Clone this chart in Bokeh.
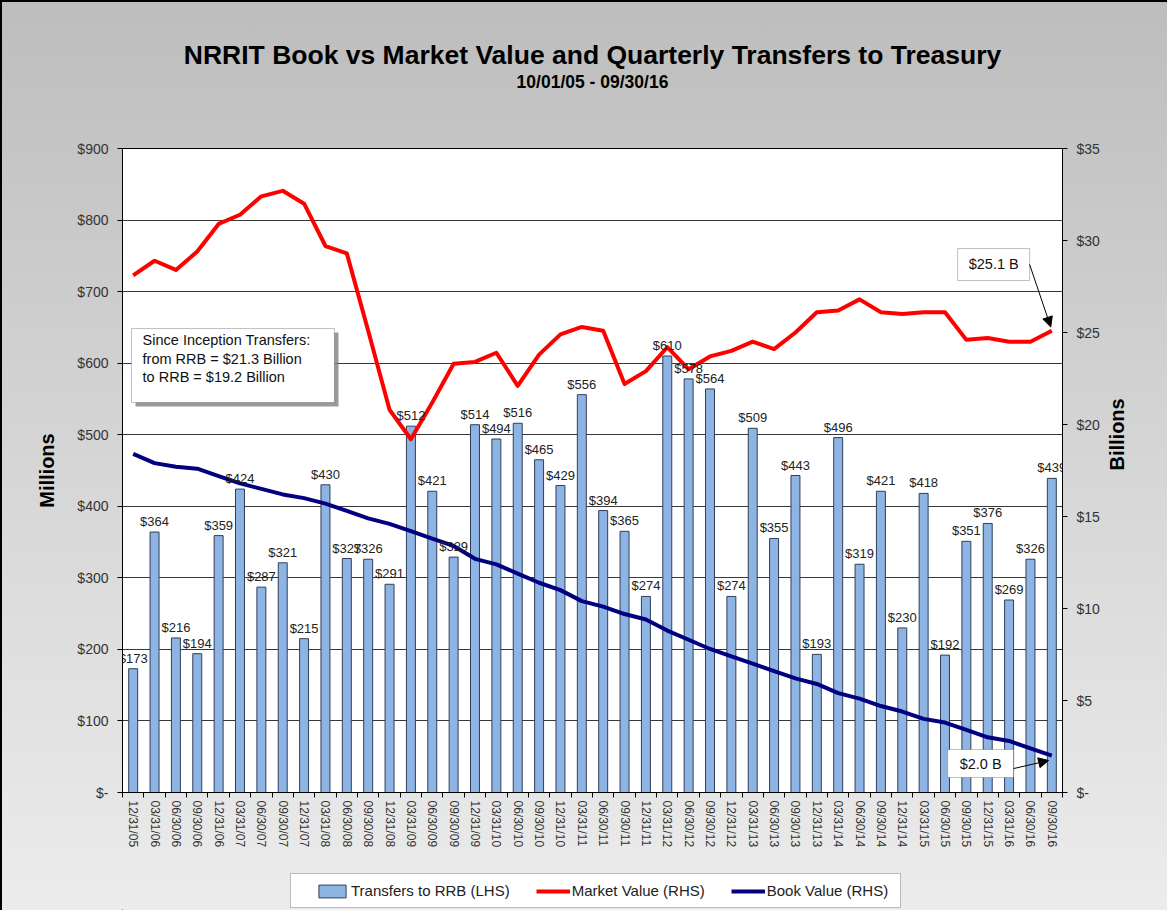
import math
from bokeh.plotting import figure
from bokeh.layouts import column
from bokeh.models import (Range1d, LinearAxis, FixedTicker, ColumnDataSource, Legend, LegendItem,
                          Label, BoxAnnotation, Arrow, NormalHead, Title)
from bokeh.embed import file_html
from bokeh.resources import INLINE
from bokeh.core.properties import value

# ---------------- data ----------------
quarters = ["12/31/05", "03/31/06", "06/30/06", "09/30/06", "12/31/06", "03/31/07", "06/30/07", "09/30/07",
            "12/31/07", "03/31/08", "06/30/08", "09/30/08", "12/31/08", "03/31/09", "06/30/09", "09/30/09",
            "12/31/09", "03/31/10", "06/30/10", "09/30/10", "12/31/10", "03/31/11", "06/30/11", "09/30/11",
            "12/31/11", "03/31/12", "06/30/12", "09/30/12", "12/31/12", "03/31/13", "06/30/13", "09/30/13",
            "12/31/13", "03/31/14", "06/30/14", "09/30/14", "12/31/14", "03/31/15", "06/30/15", "09/30/15",
            "12/31/15", "03/31/16", "06/30/16", "09/30/16"]
transfers = [173, 364, 216, 194, 359, 424, 287, 321, 215, 430, 327, 326, 291, 512, 421, 329,
             514, 494, 516, 465, 429, 556, 394, 365, 274, 610, 578, 564, 274, 509, 355, 443,
             193, 496, 319, 421, 230, 418, 192, 351, 376, 269, 326, 439]
market_value = [28.1, 28.9, 28.4, 29.4, 30.9, 31.4, 32.4, 32.7, 32.0, 29.7, 29.3, 25.1, 20.8, 19.2, 21.2, 23.3,
                23.4, 23.9, 22.1, 23.8, 24.9, 25.3, 25.1, 22.2, 22.9, 24.2, 23.0, 23.7, 24.0, 24.5, 24.1, 25.0,
                26.1, 26.2, 26.8, 26.1, 26.0, 26.1, 26.1, 24.6, 24.7, 24.5, 24.5, 25.1]
book_value = [18.4, 17.9, 17.7, 17.6, 17.2, 16.8, 16.5, 16.2, 16.0, 15.7, 15.3, 14.9, 14.6, 14.2, 13.8, 13.4,
              12.7, 12.4, 11.9, 11.4, 11.0, 10.4, 10.1, 9.7, 9.4, 8.8, 8.3, 7.8, 7.4, 7.0, 6.6, 6.2,
              5.9, 5.4, 5.1, 4.7, 4.4, 4.0, 3.8, 3.4, 3.0, 2.8, 2.4, 2.0]
left_ticks = [0, 100, 200, 300, 400, 500, 600, 700, 800, 900]
left_tick_labels = ["$-", "$100", "$200", "$300", "$400", "$500", "$600", "$700", "$800", "$900"]
right_ticks = [0, 5, 10, 15, 20, 25, 30, 35]
right_tick_labels = ["$-", "$5", "$10", "$15", "$20", "$25", "$30", "$35"]
series_names = ["Transfers to RRB (LHS)", "Market Value (RHS)", "Book Value (RHS)"]

title_text = "NRRIT Book vs Market Value and Quarterly Transfers to Treasury"
subtitle_text = "10/01/05 - 09/30/16"
note_text = "Since Inception Transfers:\nfrom RRB  = $21.3 Billion\nto RRB = $19.2 Billion"
market_callout = "$25.1 B"
book_callout = "$2.0 B"

FONT = "Liberation Sans"
BAR_FILL = "#8db4e2"
BAR_LINE = "#2f3f5a"
RED = "#ff0000"
NAVY = "#000080"

n = len(quarters)
xs = list(range(1, n + 1))
src = ColumnDataSource(dict(x=xs, q=quarters, transfers=transfers,
                            lbl=["$" + str(v) for v in transfers],
                            market=market_value, book=book_value))

p = figure(width=1167, height=865, output_backend="svg", toolbar_location=None,
           x_range=Range1d(0.5, n + 0.5), y_range=Range1d(0, 900),
           min_border_left=122, min_border_right=105, min_border_top=148, min_border_bottom=73)
p.extra_y_ranges = {"right": Range1d(0, 35)}
p.background_fill_color = "white"
p.border_fill_alpha = 0
p.outline_line_color = "black"
p.outline_line_width = 1

# titles (first added = closest to the frame)
p.title.text = ""
p.title.standoff = 0
p.add_layout(Title(text=" ", text_font_size="30px", standoff=22, text_font=FONT), "above")
p.add_layout(Title(text=subtitle_text, align="center", text_font=FONT, text_font_style="bold",
                   text_font_size="17.5px", standoff=0, text_color="#000000"), "above")
p.add_layout(Title(text=title_text, align="center", text_font=FONT, text_font_style="bold",
                   text_font_size="26.5px", standoff=0, text_color="#000000"), "above")

p.xgrid.visible = False
p.ygrid.ticker = FixedTicker(ticks=left_ticks[1:-1])
p.ygrid.grid_line_color = "#383838"
p.ygrid.grid_line_width = 1

# left axis
yl = p.yaxis[0]
yl.ticker = FixedTicker(ticks=left_ticks)
yl.major_label_overrides = dict(zip(left_ticks, left_tick_labels))
yl.major_tick_in = 0
yl.major_tick_out = 5
yl.minor_tick_line_color = None
yl.major_label_standoff = 9
yl.major_label_text_font = FONT
yl.major_label_text_font_size = "14px"
yl.major_label_text_color = "#333333"
yl.axis_line_color = "black"
yl.major_tick_line_color = "black"
yl.axis_label = "Millions"
yl.axis_label_standoff = 16
yl.axis_label_text_font = FONT
yl.axis_label_text_font_style = "bold"
yl.axis_label_text_font_size = "20px"
yl.axis_label_text_color = "#000000"

# right axis
yr = LinearAxis(y_range_name="right", ticker=FixedTicker(ticks=right_ticks))
yr.major_label_overrides = dict(zip(right_ticks, right_tick_labels))
yr.major_tick_in = 0
yr.major_tick_out = 5
yr.minor_tick_line_color = None
yr.major_label_standoff = 9
yr.major_label_text_font = FONT
yr.major_label_text_font_size = "14px"
yr.major_label_text_color = "#333333"
yr.axis_line_color = "black"
yr.major_tick_line_color = "black"
yr.axis_label = "Billions"
yr.axis_label_orientation = math.pi / 2
yr.axis_label_standoff = 14
yr.axis_label_text_font = FONT
yr.axis_label_text_font_style = "bold"
yr.axis_label_text_font_size = "20px"
yr.axis_label_text_color = "#000000"
p.add_layout(yr, "right")

# x axis
xa = p.xaxis[0]
xa.ticker = FixedTicker(ticks=xs, minor_ticks=[i + 0.5 for i in range(n + 1)])
xa.major_label_overrides = dict(zip(xs, quarters))
xa.major_tick_line_color = None
xa.major_tick_out = 5
xa.major_tick_in = 0
xa.minor_tick_line_color = "black"
xa.minor_tick_out = 5
xa.minor_tick_in = 0
xa.major_label_orientation = -math.pi / 2
xa.major_label_standoff = 3
xa.major_label_text_font = FONT
xa.major_label_text_font_size = "12px"
xa.major_label_text_color = "#333333"
xa.axis_line_color = "black"

# bars
p.vbar(x="x", top="transfers", width=0.42, source=src,
       fill_color=BAR_FILL, line_color=BAR_LINE, line_width=1)
# lines
p.line(x="x", y="market", source=src, y_range_name="right",
       line_color=RED, line_width=4, line_join="round")
p.line(x="x", y="book", source=src, y_range_name="right",
       line_color=NAVY, line_width=4, line_join="round")
# bar labels
p.text(x="x", y="transfers", text="lbl", source=src, text_align="center", text_baseline="bottom",
       y_offset=-3, text_font=value(FONT), text_font_size="13px", text_color="#222222")

# note box with shadow
p.add_layout(BoxAnnotation(left=1.11, right=10.61, top=642.8, bottom=539.4, fill_color="#808080",
                           fill_alpha=0.8, line_color=None, level="annotation"))
p.add_layout(BoxAnnotation(left=0.92, right=10.42, top=648.4, bottom=545.0, fill_color="white",
                           fill_alpha=1, line_color="#333333", line_width=1, level="annotation"))
p.add_layout(Label(x=1.44, y=643, text=note_text, text_align="left", text_baseline="top",
                   text_font=FONT, text_font_size="14.5px", text_color="#111111", text_line_height=1.15))

# callouts
p.add_layout(BoxAnnotation(left=39.59, right=42.96, top=760.2, bottom=715.5, fill_color="white",
                           fill_alpha=1, line_color="#333333", line_width=1, level="annotation"))
p.add_layout(Label(x=41.28, y=737.9, text=market_callout, text_align="center", text_baseline="middle",
                   text_font=FONT, text_font_size="14.5px", text_color="#111111"))
p.add_layout(Arrow(x_start=42.96, y_start=28.7, x_end=43.95, y_end=25.3, y_range_name="right",
                   line_color="black", line_width=1,
                   end=NormalHead(size=10, fill_color="black", line_color="black")))

p.add_layout(BoxAnnotation(left=39.12, right=42.21, top=60.1, bottom=21.0, fill_color="white",
                           fill_alpha=1, line_color="#333333", line_width=1, level="annotation"))
p.add_layout(Label(x=40.67, y=40.5, text=book_callout, text_align="center", text_baseline="middle",
                   text_font=FONT, text_font_size="14.5px", text_color="#111111"))
p.add_layout(Arrow(x_start=42.21, y_start=1.30, x_end=43.85, y_end=1.74, y_range_name="right",
                   line_color="black", line_width=1,
                   end=NormalHead(size=10, fill_color="black", line_color="black")))

# ---------------- legend strip (separate figure; its frame is aligned with the main frame) ----------------
lg = figure(width=1167, height=45, output_backend="svg", toolbar_location=None,
            x_range=Range1d(122, 1062), y_range=Range1d(0, 45),
            min_border_left=122, min_border_right=105, min_border_top=0, min_border_bottom=0)
lg.title.text = ""
lg.axis.visible = False
lg.grid.visible = False
lg.outline_line_color = None
lg.background_fill_alpha = 0
lg.border_fill_alpha = 0
lg.add_layout(BoxAnnotation(left=290, right=900, bottom=3, top=37, fill_color="white", fill_alpha=1,
                            line_color="#333333", line_width=1, level="underlay"))
# legend-only renderers (single point far outside the visible range, so only the legend glyph shows)
r_bar = lg.vbar(x=[-5000], top=[1], width=1, fill_color=BAR_FILL, line_color=BAR_LINE, line_width=1)
r_mkt = lg.line(x=[-5000, -4999], y=[1, 1], line_color=RED, line_width=4)
r_book = lg.line(x=[-5000, -4999], y=[1, 1], line_color=NAVY, line_width=4)
legend = Legend(items=[LegendItem(label=series_names[0], renderers=[r_bar]),
                       LegendItem(label=series_names[1], renderers=[r_mkt]),
                       LegendItem(label=series_names[2], renderers=[r_book])],
                orientation="horizontal", location=(315 - 122, 11), padding=0, spacing=26,
                label_standoff=2, glyph_width=34, glyph_height=16, label_height=16,
                label_text_font=FONT, label_text_font_size="15px", label_text_color="#222222",
                border_line_color=None, background_fill_alpha=0, margin=0)
lg.add_layout(legend)

layout = column(p, lg, spacing=0,
                styles={"background": "linear-gradient(to bottom, #bdbdbd 0%, #d3d3d3 45%, #ececec 100%)",
                        "box-shadow": "inset 2px 2px 0 0 #000"})

open("out.html", "w").write(file_html(layout, INLINE))
